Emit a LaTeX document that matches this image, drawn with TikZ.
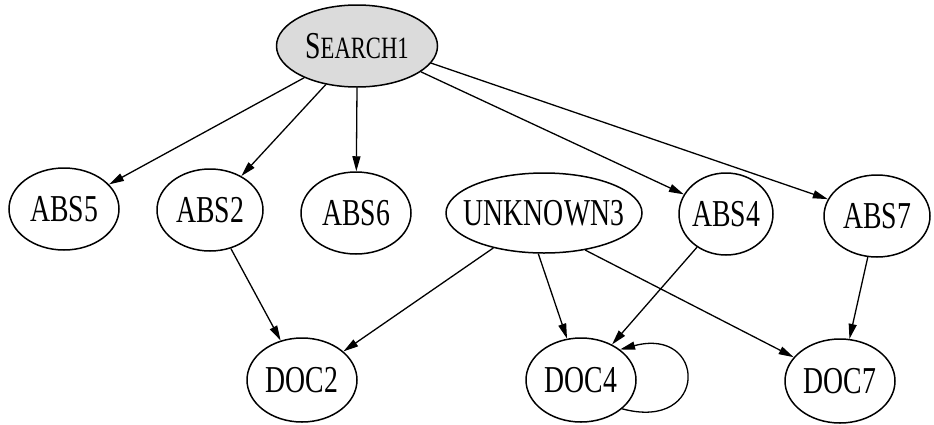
\documentclass[tikz,border=0pt]{standalone}
\usepackage{fontspec}
\setmainfont{Liberation Serif}[FakeStretch=0.73]
\usepackage{tikz}
\usetikzlibrary{arrows.meta,positioning,shapes.geometric}
\tikzset{
  nd/.style={draw, ellipse, line width=1.5pt, inner xsep=-20pt, inner ysep=0pt,
             font=\fontsize{38}{38}\selectfont, minimum height=82pt},
  qry/.style={nd, fill=gray!28, minimum width=161pt},
  abs/.style={nd, minimum width=106pt},
  unk/.style={nd, minimum width=196pt, minimum height=80pt},
  doc/.style={nd, minimum width=110pt, minimum height=84pt},
  flow/.style={-{Triangle[length=15pt, width=8pt]}, line width=1.3pt},
}

\begin{document}
\begin{tikzpicture}[x=1pt, y=-1pt]
\useasboundingbox (0,0) rectangle (934,424);
\node[qry] (s1) at (357,46) {S{\fontsize{31}{31}\selectfont EARCH1}};
\node[abs, minimum width=110pt] (a5) at (64,209) {ABS5};
\node[abs] (a2) at (210,210) {ABS2};
\node[abs, minimum width=110pt] (a6) at (356,213) {ABS6};
\node[unk] (u3) at (544,213) {UNKNOWN3};
\node[abs, minimum width=94pt] (a4) at (726,214) {ABS4};
\node[abs] (a7) at (877,216) {ABS7};
\node[doc] (d2) at (302,380) {DOC2};
\node[doc] (d4) at (581,380) {DOC4};
\node[doc] (d7) at (840,381) {DOC7};
\draw[flow] (s1.211) -- (a5); \draw[flow] (s1.231) -- (a2); \draw[flow] (s1.south) -- (a6);
\draw[flow] (s1.338) -- (a4); \draw[flow] (s1.347) -- (a7);
\draw[flow] (a2) -- (d2); \draw[flow] (u3) -- (d2); \draw[flow] (u3.262) -- (d4);
\draw[flow] (u3.318) -- (d7); \draw[flow] (a4) -- (d4); \draw[flow] (a7) -- (d7);
\draw[flow] (d4.-35) to[out=-15, in=15, distance=90pt] (d4.38);
\end{tikzpicture}
\end{document}
